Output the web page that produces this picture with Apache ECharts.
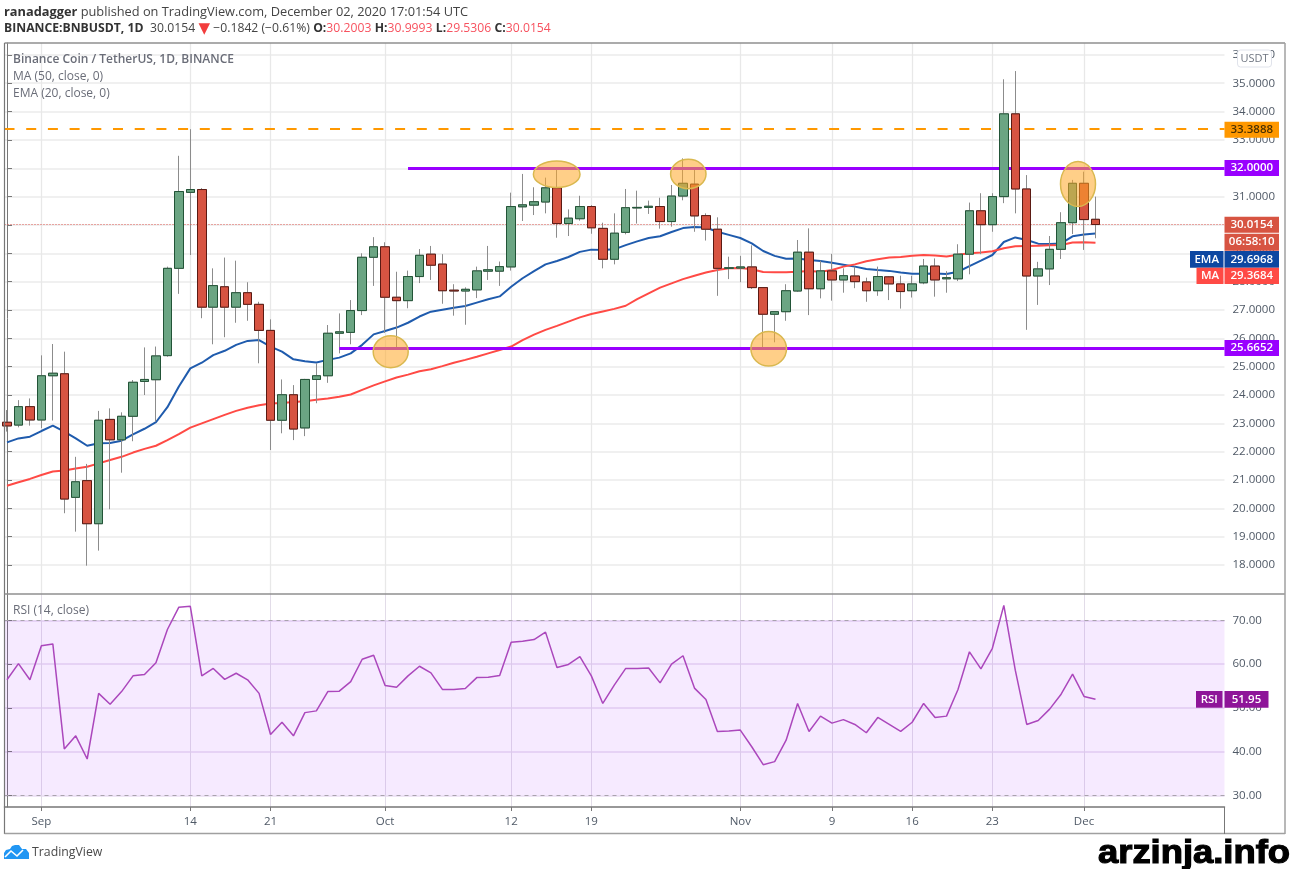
<!DOCTYPE html>
<html><head><meta charset="utf-8"><style>html,body{margin:0;padding:0;background:#fff}#c{width:1291px;height:869px}</style>
<script src="https://cdn.jsdelivr.net/npm/echarts@6/dist/echarts.min.js"></script></head>
<body><div id="c"></div>
<script>
const opens=[23.04,22.94,23.59,23.12,24.68,24.75,20.39,20.98,19.46,23.14,22.42,23.25,24.48,24.54,25.39,28.47,31.15,31.25,27.10,27.82,27.10,27.61,27.20,26.28,23.11,24.01,22.84,24.55,24.68,26.18,26.21,26.98,28.86,29.23,27.45,27.33,28.18,28.97,28.62,27.70,27.67,27.71,28.37,28.37,28.52,30.64,30.70,30.81,31.31,30.05,30.22,30.65,29.88,28.79,29.74,30.60,30.62,30.65,30.12,31.02,31.44,30.33,29.85,28.47,28.48,28.52,27.79,26.85,26.94,27.67,29.04,27.75,28.38,28.06,28.20,27.99,27.68,28.17,27.92,27.68,27.96,28.55,28.10,28.10,28.97,30.50,30.01,31.00,33.92,31.27,28.20,28.45,29.14,30.08,31.47,30.2003];
const closes=[22.91,23.59,23.12,24.68,24.77,20.33,20.94,19.46,23.11,22.42,23.25,24.45,24.55,25.38,28.47,31.18,31.25,27.10,27.86,27.10,27.61,27.20,26.28,23.11,24.01,22.80,24.55,24.68,26.18,26.23,26.98,28.86,29.23,27.45,27.33,28.18,28.93,28.58,27.68,27.67,27.73,28.38,28.42,28.53,30.65,30.71,30.82,31.31,30.05,30.24,30.65,29.90,28.79,29.71,30.61,30.62,30.66,30.12,31.02,31.47,30.32,29.85,28.47,28.49,28.52,27.79,26.85,26.94,27.68,29.04,27.75,28.38,28.06,28.21,28.00,27.68,28.18,27.92,27.65,27.92,28.55,28.06,28.14,28.97,30.50,30.01,31.00,33.92,31.27,28.20,28.45,29.14,30.08,31.47,30.19,30.0154];
const lows=[22.71,22.86,22.92,22.83,23.10,19.83,19.18,17.98,18.51,19.97,21.26,22.37,24.00,23.06,25.35,27.57,28.94,26.71,25.79,26.04,26.55,26.62,25.12,22.06,22.65,22.41,22.55,23.71,24.43,25.47,25.79,26.82,27.85,26.19,25.65,27.06,27.95,28.06,27.22,26.80,26.48,27.42,28.06,27.85,28.39,30.14,30.35,30.41,29.55,29.61,30.15,29.69,28.47,28.61,29.67,30.05,30.39,29.87,29.94,30.87,29.76,29.45,27.50,28.09,27.98,27.74,25.65,25.86,26.62,27.64,26.82,27.41,27.33,27.61,27.77,27.29,27.50,27.35,27.05,27.44,27.91,27.47,27.61,28.02,28.26,28.97,29.76,30.77,30.41,26.30,27.18,27.88,28.80,29.68,29.12,29.5306];
const highs=[23.47,23.82,23.88,25.40,25.80,25.53,21.82,21.57,23.44,23.53,23.39,24.53,25.68,25.71,28.53,32.44,33.38,31.30,28.47,28.85,28.74,27.98,27.29,26.67,24.55,24.35,24.57,25.12,26.47,26.88,27.35,29.00,29.57,29.39,28.35,28.39,29.15,29.26,28.97,27.91,27.80,28.53,29.26,28.71,31.14,31.80,31.33,31.67,31.97,30.55,31.03,30.70,30.08,30.41,31.27,31.21,30.86,30.96,31.41,32.35,31.94,30.41,30.27,28.88,28.91,29.28,27.81,26.96,27.91,29.47,29.88,28.74,28.98,28.47,28.53,28.14,28.53,28.20,28.21,28.21,28.80,28.82,28.37,29.32,30.79,31.12,31.12,35.14,35.43,31.76,28.70,29.61,30.45,31.59,31.88,30.9993];
const ema20=[22.33,22.47,22.53,22.73,22.92,22.71,22.47,22.21,22.30,22.31,22.39,22.61,22.81,23.04,23.57,24.30,24.94,25.14,25.41,25.56,25.77,25.91,25.94,25.71,25.53,25.26,25.19,25.15,25.24,25.32,25.47,25.77,26.14,26.26,26.38,26.55,26.77,26.94,27.01,27.08,27.14,27.26,27.38,27.48,27.82,28.12,28.37,28.61,28.73,28.87,29.05,29.13,29.12,29.14,29.29,29.42,29.54,29.60,29.75,29.89,29.93,29.91,29.76,29.65,29.54,29.35,29.08,28.91,28.81,28.82,28.76,28.73,28.67,28.60,28.53,28.45,28.41,28.38,28.32,28.28,28.28,28.29,28.27,28.35,28.55,28.74,28.94,29.40,29.56,29.47,29.34,29.33,29.35,29.60,29.66,29.6968];
const ma50=[20.80,20.92,21.04,21.18,21.30,21.34,21.41,21.47,21.59,21.71,21.82,21.97,22.10,22.21,22.41,22.62,22.85,23.00,23.15,23.30,23.44,23.55,23.64,23.70,23.72,23.75,23.78,23.83,23.88,23.94,24.02,24.18,24.34,24.48,24.62,24.72,24.84,24.91,25.02,25.14,25.24,25.35,25.47,25.59,25.71,25.94,26.13,26.30,26.44,26.59,26.74,26.86,26.95,27.04,27.15,27.38,27.59,27.79,27.94,28.09,28.21,28.32,28.41,28.47,28.48,28.44,28.34,28.33,28.33,28.35,28.38,28.35,28.41,28.53,28.61,28.72,28.79,28.85,28.87,28.91,28.94,28.92,28.89,28.95,29.00,29.03,29.07,29.18,29.25,29.26,29.27,29.28,29.29,29.38,29.39,29.3684];
const rsi14=[56.4,60.1,56.4,64.2,64.6,40.6,43.6,38.3,53.3,50.8,53.7,57.3,57.6,60.3,67.9,73.0,73.2,57.3,59.0,56.5,57.9,56.4,53.3,43.9,46.7,43.6,48.9,49.3,53.7,53.8,56.0,61.1,62.0,55.1,54.7,57.3,59.5,58.0,54.2,54.2,54.4,56.9,57.0,57.4,65.0,65.2,65.6,67.3,59.2,59.9,61.7,57.3,51.0,55.2,59.0,59.0,59.1,55.7,60.0,61.9,54.5,51.9,44.6,44.7,44.9,41.1,37.0,37.7,42.6,51.0,44.6,48.1,46.5,47.3,46.2,44.3,47.8,46.2,44.6,46.7,51.0,47.8,48.1,54.2,62.8,58.9,63.6,73.4,58.6,46.2,47.1,49.7,53.1,57.7,52.6,51.95];
const xTickIndex=[3,16,23,33,44,51,64,72,79,86,94];
const xTickLabels=['Sep','14','21','Oct','12','19','Nov','9','16','23','Dec'];
const priceTicks=[18,19,20,21,22,23,24,25,26,27,28,29,30,31,32,33,34,35,36];
const rsiTicks=[30,40,50,60,70];
const levelResist=32, levelSupport=25.6652, levelTop=33.3888, lastPrice=30.0154;

const XMIN=-0.218, XMAX=106.26;
const GREY='#4f5966';
const chart=echarts.init(document.getElementById('c'),null,{renderer:'canvas'});
const idx=opens.map((_,i)=>i);
const wickData=idx.map(i=>[i,opens[i],closes[i],lows[i],highs[i]]);
const bodyData=idx.map(i=>[i,opens[i],closes[i],Math.min(opens[i],closes[i]),Math.max(opens[i],closes[i])]);
const pairs=a=>a.map((v,i)=>[i,v]);
const FONT='"Open Sans",sans-serif';
const hline=(x0,y,color,width,type)=>[{xAxis:x0,yAxis:y,lineStyle:{color,width,type}},{xAxis:XMAX,yAxis:y}];
const tag=(x,y,w,h,bg,text,color)=>({type:'group',z:100,children:[
 {type:'rect',z:100,shape:{x,y,width:w,height:h},style:{fill:bg}},
 {type:'text',z:101,x:x+w/2,y:y+h/2,style:{text,fill:color||'#fff',font:'600 11.5px '+FONT,align:'center',verticalAlign:'middle'}}]});
const oval=(cx,cy,rx,ry)=>({type:'ellipse',z:90,shape:{cx,cy,rx,ry},style:{fill:'rgba(255,167,38,0.55)',stroke:'#d9b84f',lineWidth:1.5}});
const frame=(x1,y1,x2,y2,c,w)=>({type:'line',z:80,shape:{x1,y1,x2,y2},style:{stroke:c,lineWidth:w||1}});
const txt=(x,y,text,font,fill,extra)=>({type:'text',z:97,x,y,style:Object.assign({text,font,fill,verticalAlign:'middle'},extra||{})});
const R='#f7525f';
chart.setOption({
 animation:false,backgroundColor:'#fff',
 grid:[{left:4.5,right:66.5,top:43,height:551},{left:4.5,right:66.5,top:594,height:213}],
 xAxis:[
  {type:'value',gridIndex:0,min:XMIN,max:XMAX,axisLine:{show:false},axisTick:{show:false,customValues:xTickIndex},axisLabel:{show:false,customValues:xTickIndex},splitLine:{show:true,lineStyle:{color:'#e8e8e8',width:1.3}}},
  {type:'value',gridIndex:1,min:XMIN,max:XMAX,axisLine:{show:true,lineStyle:{color:'#777',width:1.5}},
   axisTick:{show:true,length:4,customValues:xTickIndex,lineStyle:{color:'#777'}},
   axisLabel:{show:true,customValues:xTickIndex,margin:9,color:GREY,fontSize:11.5,fontFamily:FONT,formatter:v=>xTickLabels[xTickIndex.indexOf(v)]||''},
   splitLine:{show:true,lineStyle:{color:'#e2dce8',width:1}}}
 ],
 yAxis:[
  {type:'value',gridIndex:0,position:'right',min:16.98,max:36.42,axisLine:{show:true,lineStyle:{color:'#777',width:1}},
   axisTick:{show:true,length:5,customValues:priceTicks,lineStyle:{color:'#777'}},
   axisLabel:{show:true,customValues:priceTicks,margin:8,color:GREY,fontSize:11.5,fontFamily:FONT,formatter:v=>v.toFixed(4)},
   splitLine:{show:true,lineStyle:{color:'#ebebeb',width:1.5}}},
  {type:'value',gridIndex:1,position:'right',min:27.33,max:76.01,axisLine:{show:true,lineStyle:{color:'#777',width:1}},
   axisTick:{show:true,length:5,customValues:rsiTicks,lineStyle:{color:'#777'}},
   axisLabel:{show:true,customValues:rsiTicks,margin:8,color:GREY,fontSize:11.5,fontFamily:FONT,formatter:v=>v.toFixed(2)},
   splitLine:{show:true,lineStyle:{color:'#e8dcf2',width:1.5}}}
 ],
 series:[
  {name:'Levels',type:'line',z:2,xAxisIndex:0,yAxisIndex:0,data:[],silent:true,
   markLine:{silent:true,symbol:'none',label:{show:false},animation:false,data:[
     hline(XMIN,levelTop,'#ff9800',2,[10,11.7]),
     hline(35,levelResist,'#9900ff',3,'solid'),
     hline(29,levelSupport,'#9900ff',3,'solid')
   ]}},
  {name:'EMA',type:'line',z:3,xAxisIndex:0,yAxisIndex:0,data:pairs(ema20),showSymbol:false,lineStyle:{color:'#1f5bad',width:2}},
  {name:'MA',type:'line',z:3,xAxisIndex:0,yAxisIndex:0,data:pairs(ma50),showSymbol:false,lineStyle:{color:'#ff4a45',width:2}},
  {name:'Wicks',type:'candlestick',z:4,xAxisIndex:0,yAxisIndex:0,barWidth:9,data:wickData,encode:{x:0,y:[1,2,3,4]},
   itemStyle:{color:'#8c8c8c',color0:'#8c8c8c',borderColor:'#8c8c8c',borderColor0:'#8c8c8c',borderWidth:1}},
  {name:'Candles',type:'candlestick',z:5,xAxisIndex:0,yAxisIndex:0,barWidth:9,data:bodyData,encode:{x:0,y:[1,2,3,4]},
   itemStyle:{color:'#6ba583',color0:'#d75442',borderColor:'#225437',borderColor0:'#5b1a13',borderWidth:1}},
  {name:'Last',type:'line',z:6,xAxisIndex:0,yAxisIndex:0,data:[],silent:true,
   markLine:{silent:true,symbol:'none',label:{show:false},animation:false,data:[hline(XMIN,lastPrice,'#e0564f',1,[1,2])]}},
  {name:'RSI',type:'line',z:5,xAxisIndex:1,yAxisIndex:1,data:pairs(rsi14),showSymbol:false,lineStyle:{color:'#ab47bc',width:1.5},
   markArea:{silent:true,itemStyle:{color:'rgba(153,21,255,0.09)'},data:[[{yAxis:30},{yAxis:70}]]},
   markLine:{silent:true,symbol:'none',label:{show:false},animation:false,lineStyle:{color:'#a9a3ad',width:1,type:[4,4]},data:[{yAxis:70},{yAxis:30}]}}
 ],
 graphic:[
  frame(4.5,43,1285,43,'#8f8f8f',1.5),frame(4.5,43,4.5,834,'#777',1.2),
  frame(4.5,594,1285,594,'#8f8f8f',1.5),frame(4.5,833.5,1285,833.5,'#a0a0a0',1.5),
  frame(1285,43,1285,834,'#a0a0a0',1.5),frame(1224.5,807,1224.5,834,'#777',1),
  oval(390.7,351.7,17.5,16),oval(556.7,174.3,23.3,13.3),oval(688.3,174,17.7,14.7),oval(768.7,348.7,17.8,17.3),oval(1078,184,17.5,22.5),
  {type:'rect',z:96,shape:{x:1237.5,y:50,width:34,height:17,r:3},style:{fill:'#fff',stroke:'#e0e3eb'}},
  txt(1254.5,58.5,'USDT','11px '+FONT,'#6f7681',{align:'center'}),
  tag(1224.5,121.7,54.5,16,'#ff9800','33.3888','#4a3000'),
  tag(1224.5,160,54.5,16,'#9900ff','32.0000'),
  tag(1224.5,216.7,54.5,16,'#d75442','30.0154'),
  tag(1224.5,233.7,54.5,17,'#d75442','06:58:10'),
  tag(1224.5,251,54.5,16.7,'#0d47a1','29.6968'),
  tag(1190,251,33.5,16.7,'#0d47a1','EMA'),
  tag(1224.5,267.7,54.5,16.3,'#ff4a45','29.3684'),
  tag(1196.5,267.7,27,16.3,'#ff4a45','MA'),
  tag(1224.5,340,54.5,16,'#9900ff','25.6652'),
  tag(1196,691,26.5,16.7,'#8e1599','RSI'),
  tag(1224.5,691,44,16.7,'#8e1599','51.95'),
  {type:'text',z:95,x:4,y:12,style:{text:'{b|ranadagger} {n|published on TradingView.com, December 02, 2020 17:01:54 UTC}',verticalAlign:'middle',
    rich:{b:{fontSize:12.8,fontFamily:FONT,fontWeight:700,fill:'#333'},n:{fontSize:12.8,fontFamily:FONT,fill:'#444'}}}},
  {type:'text',z:95,x:4,y:29,style:{text:'{b|BINANCE:BNBUSDT, 1D}  {n|30.0154} {t|▼} {n|−0.1842 (−0.61%)} {b|O:}{r|30.2003} {b|H:}{r|30.9993} {b|L:}{r|29.5306} {b|C:}{r|30.0154}',verticalAlign:'middle',
    rich:{b:{fontSize:12.2,fontFamily:FONT,fontWeight:700,fill:'#333'},n:{fontSize:12.2,fontFamily:FONT,fill:'#444'},r:{fontSize:12.2,fontFamily:FONT,fill:R},t:{fontSize:15,fontFamily:'"DejaVu Sans"',fill:'#f23d3d'}}}},
  txt(13,60,'Binance Coin / TetherUS, 1D, BINANCE','600 12px '+FONT,'#6a6d78'),
  txt(13,77,'MA (50, close, 0)','12px '+FONT,'#6a6d78'),
  txt(13,93.5,'EMA (20, close, 0)','12px '+FONT,'#6a6d78'),
  txt(13,611,'RSI (14, close)','12px '+FONT,'#6a6d78'),
  {type:'polygon',z:95,shape:{points:[[4,859],[4,853],[6,850],[10,849],[12,846],[15,845],[19,845],[22,849],[26,849],[29,853],[29,859]]},style:{fill:'#2196f3'}},
  {type:'polyline',z:96,shape:{points:[[5,857],[11,851],[17,856],[23,850]]},style:{stroke:'#fff',lineWidth:1.6,fill:null}},
  txt(32,852,'TradingView','12.3px '+FONT,'#4a4a4a'),
  Object.assign(txt(1098,853.5,'arzinja.info','700 34px "Liberation Sans",Arial,sans-serif','#000',{stroke:'#000',lineWidth:1.2}),{scaleX:1.07})
 ]
});
</script></body></html>
